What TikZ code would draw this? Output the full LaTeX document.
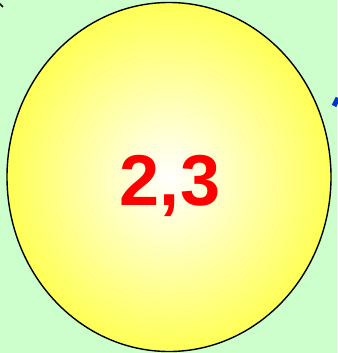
\documentclass[tikz,border=0pt]{standalone}
\usepackage{fontspec}
\setmainfont{Liberation Sans}
\definecolor{bggreen}{HTML}{CCFFCC}
\definecolor{ballyellow}{HTML}{FFFF55}
\definecolor{numred}{HTML}{FF0000}
\definecolor{arrowblue}{HTML}{0033CC}
\tikzset{
  ball/.style={draw=black, line width=1.4pt, inner color=white, outer color=ballyellow},
  numtext/.style={text=numred, font=\fontsize{72}{72}\selectfont\bfseries},
  frag/.style={line width=2.5pt}
}
\begin{document}
\begin{tikzpicture}[x=1pt,y=-1pt]
  \fill[bggreen] (0,0) rectangle (337,353);
  \useasboundingbox (0,0) rectangle (337,353);
  \path[ball] (169,177) ellipse [x radius=162, y radius=174.5];
  \node[numtext] (num) at (170,186) {2,3};
  \coordinate (k1) at (-1,3);
  \coordinate (k2) at (3,7);
  \draw[black, line width=1.5pt] (k1) -- (k2);
  \coordinate (b1) at (338,98);
  \coordinate (b2) at (334,106);
  \draw[arrowblue, line width=5pt] (b1) -- (b2);
\end{tikzpicture}
\end{document}
